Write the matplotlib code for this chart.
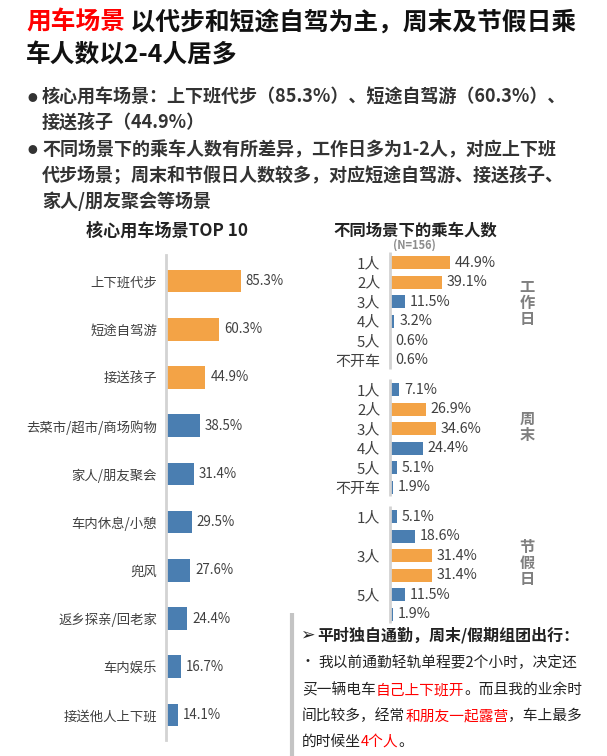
import matplotlib
matplotlib.use("Agg")
import matplotlib.pyplot as plt

plt.rcParams['font.family'] = ['Noto Sans CJK SC', 'DejaVu Sans']

# ---- data ----
scenes = ['上下班代步', '短途自驾游', '接送孩子', '去菜市/超市/商场购物', '家人/朋友聚会',
          '车内休息/小憩', '兜风', '返乡探亲/回老家', '车内娱乐', '接送他人上下班']
scene_pct = [85.3, 60.3, 44.9, 38.5, 31.4, 29.5, 27.6, 24.4, 16.7, 14.1]

people = ['1人', '2人', '3人', '4人', '5人', '不开车']
group_names = ['工作日', '周末', '节假日']
workday = [44.9, 39.1, 11.5, 3.2, 0.6, 0.6]
weekend = [7.1, 26.9, 34.6, 24.4, 5.1, 1.9]
holiday = [5.1, 18.6, 31.4, 31.4, 11.5, 1.9]
sample_n = 156

ORANGE = '#F3A346'
BLUE = '#4A7EB1'
AXIS_GRAY = '#d3d3d3'
TXT = '#404040'

W, H = 607, 756
fig = plt.figure(figsize=(W / 100, H / 100), dpi=100)

# background axes in pixel coordinates for free text
bg = fig.add_axes([0, 0, 1, 1])
bg.set_xlim(0, W)
bg.set_ylim(H, 0)
bg.axis('off')


def rich_line(x, y, parts, **kw):
    t = bg.text(x, y, parts[0][0], color=parts[0][1], va='center', ha='left', **kw)
    for s, c in parts[1:]:
        t = bg.annotate(s, xy=(1, 0), xycoords=t, va='bottom', ha='left', color=c, **kw)
    return t


# ---- header ----
rich_line(26, 23, [('用车场景', '#FF0000'), (' 以代步和短途自驾为主，周末及节假日乘', '#111111')],
          fontsize=17.8, fontweight='bold')
bg.text(26, 56, '车人数以2-4人居多', fontsize=17.8, fontweight='bold', color='#111111', va='center')

bullets = [
    ['核心用车场景：上下班代步（85.3%）、短途自驾游（60.3%）、', '接送孩子（44.9%）'],
    ['不同场景下的乘车人数有所差异，工作日多为1-2人，对应上下班',
     '代步场景；周末和节假日人数较多，对应短途自驾游、接送孩子、', '家人/朋友聚会等场景'],
]
y = 97
for lines in bullets:
    bg.text(32, y + 0.5, '●', fontsize=7, color='#333333', va='center', ha='center')
    for ln in lines:
        bg.text(42, y, ln, fontsize=13.0, fontweight='bold', color='#333333', va='center')
        y += 25.5
    y += 2

bg.text(167, 231, '核心用车场景TOP 10', fontsize=12.3, fontweight='bold', color='#222222',
        va='center', ha='center')
bg.text(415, 231, '不同场景下的乘车人数', fontsize=11.8, fontweight='bold', color='#222222',
        va='center', ha='center')
bg.text(414, 245, '(N=%d)' % sample_n, fontsize=8, fontweight='bold', color='#8c8c8c',
        va='center', ha='center')

# ---- left chart ----
ax1 = fig.add_axes([166 / W, 1 - 740 / H, 120 / W, 485 / H])
ypos = list(range(len(scenes)))
cols = [ORANGE if i < 3 else BLUE for i in ypos]
ax1.barh(ypos, scene_pct, height=0.47, color=cols)
ax1.set_xlim(0, 136.5)
ax1.set_ylim(9.52, -0.54)
ax1.set_yticks(ypos)
ax1.set_yticklabels(scenes, fontsize=9.6, color=TXT)
ax1.tick_params(axis='y', length=0, pad=6.5)
ax1.set_xticks([])
for s in ['top', 'right', 'bottom']:
    ax1.spines[s].set_visible(False)
ax1.spines['left'].set_color(AXIS_GRAY)
ax1.spines['left'].set_linewidth(2)
for yy, v in zip(ypos, scene_pct):
    ax1.annotate('%.1f%%' % v, xy=(v, yy), xytext=(3.5, 0), textcoords='offset points',
                 va='center', ha='left', fontsize=9.6, color=TXT)

# ---- right chart ----
ax2 = fig.add_axes([390 / W, 1 - 622 / H, 120 / W, 371 / H])
groups = [workday, weekend, holiday]
gap = 6.5
yt, yl = [], []
for g, vals in enumerate(groups):
    top2 = sorted(range(len(vals)), key=lambda i: vals[i], reverse=True)[:2]
    for r, v in enumerate(vals):
        yy = g * gap + r
        ax2.barh(yy, v, height=0.67, color=ORANGE if r in top2 else BLUE)
        ax2.annotate('%.1f%%' % v, xy=(v, yy), xytext=(3.5, 0), textcoords='offset points',
                     va='center', ha='left', fontsize=10.3, color=TXT)
        yt.append(yy)
        # the holiday block only labels every other row in the source
        yl.append('' if (g == 2 and r % 2 == 1) else people[r])
    ax2.vlines(0, g * gap - 0.55, g * gap + 5.45, color=AXIS_GRAY, lw=2, clip_on=False)
ax2.set_xlim(0, 89.8)
ax2.set_ylim(18.4, -0.6)
ax2.set_yticks(yt)
ax2.set_yticklabels(yl, fontsize=10.8, color=TXT)
ax2.tick_params(axis='y', length=0, pad=7)
ax2.set_xticks([])
for s in ax2.spines.values():
    s.set_visible(False)

for name, yc in zip(group_names, [303, 427, 563]):
    bg.text(527, yc, '\n'.join(name), fontsize=11, fontweight='bold', color='#7f7f7f',
            va='center', ha='center', linespacing=1.0)

# ---- quote box ----
bg.plot([292, 292], [613, 756], color='#c4c4c4', lw=3, solid_capstyle='butt')
bg.text(300, 635, '➢', fontsize=12.5, color='#222222', va='center', family=['DejaVu Sans'])
bg.text(317, 635, '平时独自通勤，周末/假期组团出行：', fontsize=11.5, fontweight='bold',
        color='#222222', va='center')
bg.text(301, 662, '•', fontsize=10, color='#222222', va='center')
quote = [
    [('我以前通勤轻轨单程要2个小时，决定还', '#222222')],
    [('买一辆电车', '#222222'), ('自己上下班开', '#FF0000'), ('。而且我的业余时', '#222222')],
    [('间比较多，经常', '#222222'), ('和朋友一起露营', '#FF0000'), ('，车上最多', '#222222')],
    [('的时候坐', '#222222'), ('4个人', '#FF0000'), ('。', '#222222')],
]
qx = [318, 302, 302, 302]
qy = [663, 690, 716, 742]
for parts, x0, y0 in zip(quote, qx, qy):
    rich_line(x0, y0, parts, fontsize=10.6, style='italic')

fig.savefig('out.png', dpi=100)
